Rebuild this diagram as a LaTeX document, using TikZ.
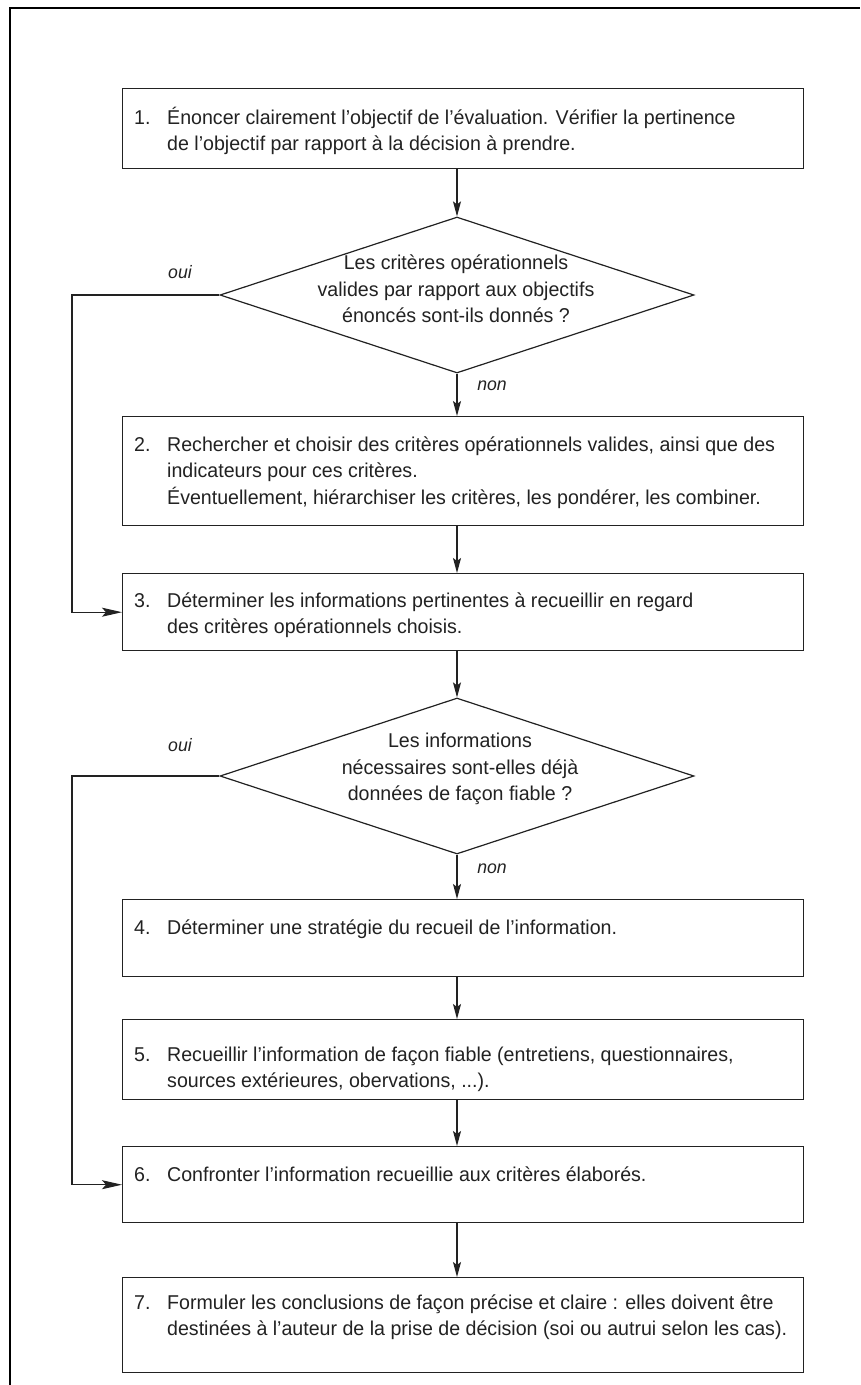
\documentclass[tikz,border=0pt]{standalone}
\usepackage{fontspec}
\setmainfont{Liberation Sans}[FakeStretch=0.98]
\usetikzlibrary{shapes.geometric,arrows.meta}
\definecolor{ink}{HTML}{222222}
\newcommand{\etape}[2]{\begin{tabular}[t]{@{}p{33pt}@{}l@{}}#1 & #2\end{tabular}}

\begin{document}
\begin{tikzpicture}[x=1pt, y=-1pt, color=ink,
  font=\fontsize{20}{26.5}\selectfont,
  stepbox/.style={draw, line width=1.4pt, minimum width=681pt, inner sep=0pt, anchor=north west},
  choice/.style={draw, diamond, line width=1.2pt, minimum width=474pt, minimum height=156pt, inner sep=0pt},
  txt/.style={anchor=base west, inner sep=0pt},
  qtxt/.style={align=center, inner sep=0pt},
  lbl/.style={font=\fontsize{18}{20}\selectfont\itshape},
  link/.style={line width=1.1pt, -{Stealth[length=15pt,width=8pt,inset=3pt]}},
  back/.style={line width=1.1pt, -{Stealth[length=20pt,width=9pt,inset=4pt]}}]
\fill[white] (0,0) rectangle (860,1385);
\useasboundingbox (0,0) rectangle (860,1385);
\draw[line width=2.5pt, black] (10,1385) -- (10,8) -- (860,8);

% boxes
\node[stepbox, minimum height=80pt] (b1) at (122,88) {};
\node[stepbox, minimum height=109pt] (b2) at (122,416) {};
\node[stepbox, minimum height=77pt] (b3) at (122,573) {};
\node[stepbox, minimum height=77pt] (b4) at (122,899) {};
\node[stepbox, minimum height=80pt] (b5) at (122,1019) {};
\node[stepbox, minimum height=76pt] (b6) at (122,1146) {};
\node[stepbox, minimum height=95pt] (b7) at (122,1277) {};

% questions
\node[choice] (d1) at (457,295) {};
\node[choice] (d2) at (457,776) {};

% texts
\node[txt] (t1) at (134,124) {\etape{1.}{Énoncer clairement l’objectif de l’évaluation. Vérifier la pertinence\\ & de l’objectif par rapport à la décision à prendre.}};
\node[txt] (t2) at (134,451) {\etape{2.}{Rechercher et choisir des critères opérationnels valides, ainsi que des\\ & indicateurs pour ces critères.\\ & Éventuellement, hiérarchiser les critères, les pondérer, les combiner.}};
\node[txt] (t3) at (134,607) {\etape{3.}{Déterminer les informations pertinentes à recueillir en regard\\ & des critères opérationnels choisis.}};
\node[txt] (t4) at (134,934) {\etape{4.}{Déterminer une stratégie du recueil de l’information.}};
\node[txt] (t5) at (134,1061) {\etape{5.}{Recueillir l’information de façon fiable (entretiens, questionnaires,\\ & sources extérieures, obervations, ...).}};
\node[txt] (t6) at (134,1181) {\etape{6.}{Confronter l’information recueillie aux critères élaborés.}};
\node[txt] (t7) at (134,1309) {\etape{7.}{Formuler les conclusions de façon précise et claire : elles doivent être\\ & destinées à l’auteur de la prise de décision (soi ou autrui selon les cas).}};
\node[qtxt] (q1) at (456,289) {Les critères opérationnels\\valides par rapport aux objectifs\\énoncés sont-ils donnés ?};
\node[qtxt] (q2) at (460,769) {Les informations\\nécessaires sont-elles déjà\\données de façon fiable ?};

% labels
\node[lbl] (oui1) at (180,272) {oui};
\node[lbl] (oui2) at (180,745) {oui};
\node[lbl] (non1) at (492,386) {non};
\node[lbl] (non2) at (492,869) {non};

% arrows
\coordinate (loop) at (72,0);
\draw[link] (b1.south -| d1.north) -- (d1.north);
\draw[link] (d1.south) -- (d1.south |- b2.north);
\draw[link] (b2.south -| d1.south) -- (b3.north -| d1.south);
\draw[back] (d1.west) -- (d1.west -| loop) -- (b3.west -| loop) -- (b3.west);
\draw[link] (b3.south -| d2.north) -- (d2.north);
\draw[link] (d2.south) -- (d2.south |- b4.north);
\draw[link] (b4.south -| d2.south) -- (b5.north -| d2.south);
\draw[link] (b5.south -| d2.south) -- (b6.north -| d2.south);
\draw[link] (b6.south -| d2.south) -- (b7.north -| d2.south);
\draw[back] (d2.west) -- (d2.west -| loop) -- (b6.west -| loop) -- (b6.west);
\end{tikzpicture}
\end{document}
